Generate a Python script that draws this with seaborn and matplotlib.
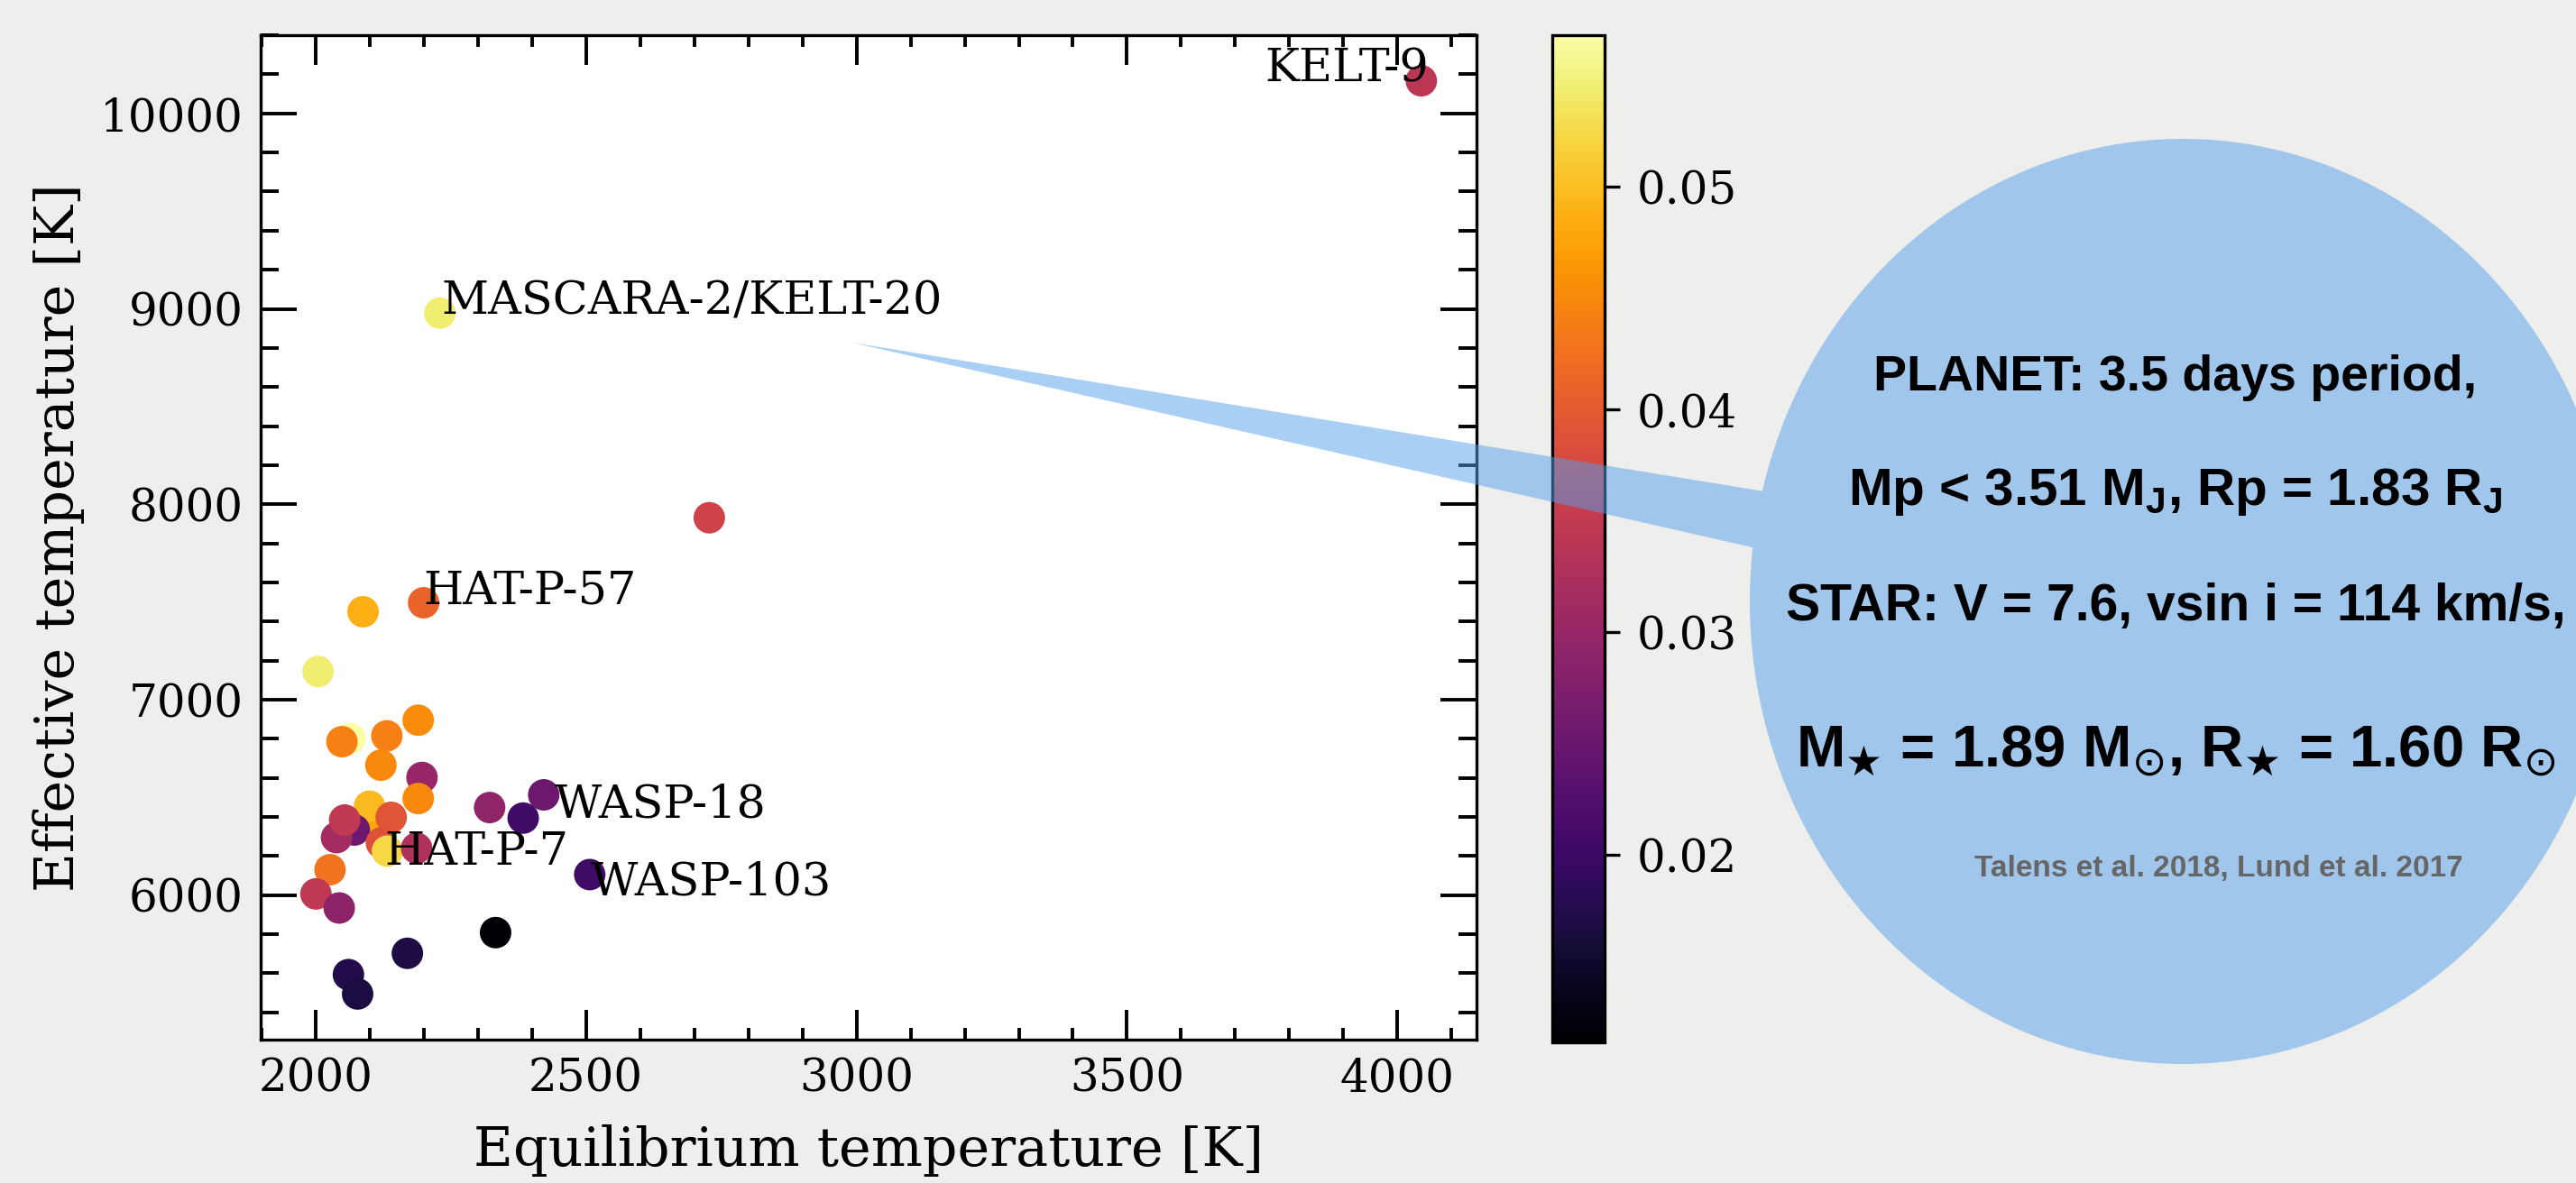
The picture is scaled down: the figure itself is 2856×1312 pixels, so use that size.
import numpy as np
import seaborn as sns
import matplotlib
matplotlib.use("Agg")
import matplotlib.pyplot as plt
from matplotlib.colors import Normalize
from matplotlib.path import Path
from matplotlib.patches import PathPatch
from matplotlib.ticker import MultipleLocator

# values (draw order matters for overlaps)
teq = [2333, 2170, 2061, 2078, 2064, 2049, 2005, 2088, 2200, 2230, 2728, 4044,
       2132, 2190, 2121, 2197, 2190, 2104, 2100, 2072, 2039, 2054, 2140, 2122,
       2133, 2187, 2322, 2422, 2384, 2507, 2027, 2001, 2044]
teff = [5808, 5702, 5593, 5494, 6801, 6785, 7144, 7450, 7496, 8978, 7931, 10167,
        6815, 6895, 6665, 6602, 6494, 6404, 6455, 6333, 6294, 6384, 6398, 6267,
        6225, 6240, 6448, 6513, 6394, 6105, 6130, 6006, 5934]
cval = [0.0116, 0.0170, 0.0175, 0.0166, 0.0568, 0.0441, 0.0545, 0.0487, 0.0410,
        0.0545, 0.0365, 0.0342, 0.0441, 0.0455, 0.0450, 0.0301, 0.0450, 0.0478,
        0.0496, 0.0252, 0.0315, 0.0347, 0.0392, 0.0387, 0.0523, 0.0328, 0.0292,
        0.0252, 0.0206, 0.0206, 0.0428, 0.0347, 0.0288]

label_names = ["KELT-9", "MASCARA-2/KELT-20", "HAT-P-57", "WASP-18", "HAT-P-7", "WASP-103"]
label_x = [4058, 2233, 2200, 2442, 2127, 2508]
label_y = [10161, 8972, 7491, 6397, 6156, 6003]

cbar_ticks = [0.02, 0.03, 0.04, 0.05]

bubble_lines = [
    "PLANET: 3.5 days period,",
    r"Mp < 3.51 M$_\mathregular{J}$, Rp = 1.83 R$_\mathregular{J}$",
    "STAR: V = 7.6, vsin i = 114 km/s,",
    r"M$_{\bigstar}$ = 1.89 M$_{\odot}$, R$_{\bigstar}$ = 1.60 R$_{\odot}$",
]
source_text = "Talens et al. 2018, Lund et al. 2017"

sns.set_style("ticks")
plt.rcParams['font.family'] = ['DejaVu Serif']
plt.rcParams['mathtext.fontset'] = 'dejavusans'
for key in ['text.color', 'axes.labelcolor', 'xtick.color', 'ytick.color', 'axes.edgecolor']:
    plt.rcParams[key] = 'black'

bg = '#eeeeec'
fig = plt.figure(figsize=(14.28, 6.56), dpi=200, facecolor=bg)
ax = fig.add_axes([0.1012, 0.1212, 0.4720, 0.8491])
cax = fig.add_axes([0.6026, 0.1189, 0.0203, 0.8514])
ax.set_facecolor('white')

vmin, vmax = min(cval), max(cval)
sns.scatterplot(x=teq, y=teff, hue=cval, palette='inferno', hue_norm=(vmin, vmax),
                s=158, linewidth=0, legend=False, ax=ax, zorder=2)

for name, x, y in zip(label_names, label_x, label_y):
    ax.text(x, y, name, fontsize=18.3, ha='right' if name == 'KELT-9' else 'left',
            va='baseline', zorder=3)

ax.set_xlabel('Equilibrium temperature [K]', fontsize=21.7, labelpad=9)
ax.set_ylabel('Effective temperature [K]', fontsize=21.7, labelpad=6)
ax.xaxis.set_major_locator(MultipleLocator(500))
ax.xaxis.set_minor_locator(MultipleLocator(100))
ax.yaxis.set_major_locator(MultipleLocator(1000))
ax.yaxis.set_minor_locator(MultipleLocator(200))
ax.tick_params(which='both', direction='in', top=True, right=True, width=1.4,
               labelsize=18, pad=7, color='black')
ax.tick_params(axis='x', which='major', length=11.9)
ax.tick_params(axis='x', which='minor', length=4.7)
ax.tick_params(axis='y', which='major', length=14.4)
ax.tick_params(axis='y', which='minor', length=7.2)
for sp in ax.spines.values():
    sp.set_linewidth(1.2)
    sp.set_color('black')

sm = plt.cm.ScalarMappable(norm=Normalize(vmin, vmax), cmap='inferno')
cb = fig.colorbar(sm, cax=cax)
cb.set_ticks(cbar_ticks)
cb.outline.set_linewidth(1.2)
cax.tick_params(direction='out', length=6, width=1.2, labelsize=18, pad=7)
cax.minorticks_off()

# callout bubble: ellipse merged with a wedge pointing at the plot
W, H = 2856, 1312
cx, cy = 2420 / W, 1 - 667 / H
a, b = 480 / W, 513 / H
t = np.radians(np.linspace(173.3, 526.2, 500))
verts = list(zip(cx + a * np.cos(t), cy + b * np.sin(t)))
verts.append((945 / W, 1 - 380 / H))
verts.append(verts[0])
codes = [Path.MOVETO] + [Path.LINETO] * (len(verts) - 2) + [Path.CLOSEPOLY]
bubble = PathPatch(Path(verts, codes), transform=fig.transFigure, facecolor='#55a0eb',
                   alpha=0.5, linewidth=0, zorder=5)
fig.add_artist(bubble)

sans = ['Liberation Sans', 'DejaVu Sans']
sizes = [20, 21, 20.5, 23.5]
for line, yb, fs in zip(bubble_lines, [0.6703, 0.5732, 0.4758, 0.3521], sizes):
    fig.text(0.8445, yb, line, ha='center', va='baseline', fontsize=fs,
             fontweight='bold', family=sans, color='black', zorder=6)
fig.text(0.8613, 0.2591, source_text, ha='center', va='baseline', fontsize=12,
         fontweight='bold', family=sans, color='#666666', zorder=6)

fig.savefig('out.png', dpi=200, facecolor=bg)
